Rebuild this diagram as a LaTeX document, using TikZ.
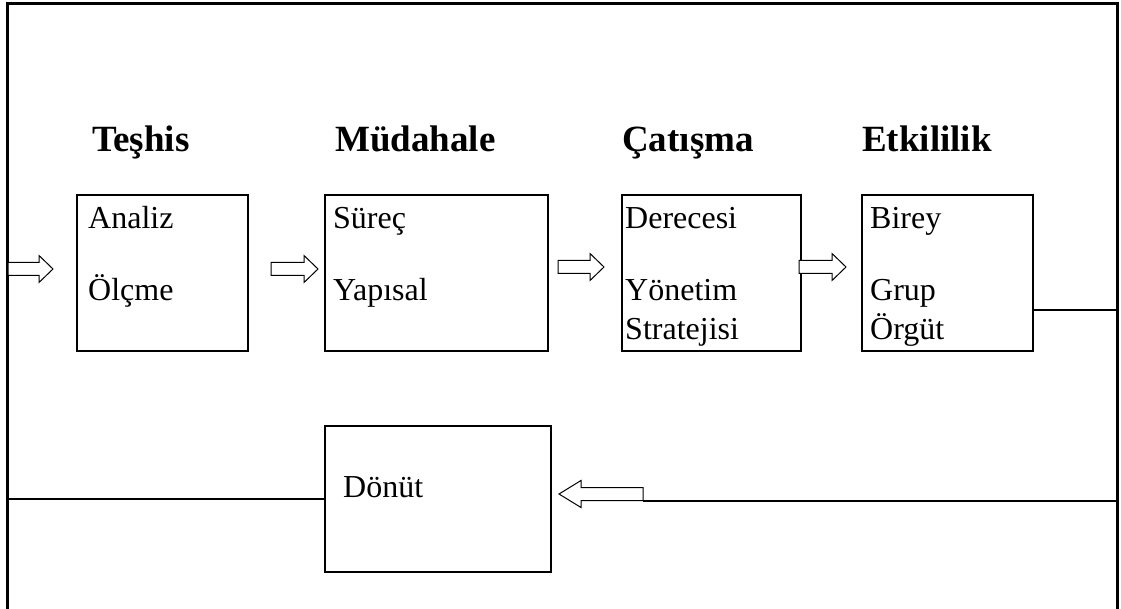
\documentclass[tikz,border=0pt]{standalone}
\usepackage{fontspec}
\setmainfont{Liberation Serif}

\tikzset{
  kutu/.style={draw, line width=2pt, inner sep=0pt},
  metin/.style={anchor=base west, inner sep=0pt, font=\fontsize{32}{38}\selectfont},
  baslik/.style={anchor=base west, inner sep=0pt, font=\fontsize{37}{44}\selectfont\bfseries},
  okcizgi/.style={draw, line width=1pt, fill=white, line join=miter},
  baglanti/.style={line width=2pt},
  cerceve/.style={line width=3pt},
}

% hollow block arrow: tail x, tip x, centre y, head length (negative = to the left)
\newcommand{\blokok}[4]{%
  \draw[okcizgi] (#1,#3-6.5) -- (#2-#4,#3-6.5) -- (#2-#4,#3-13.5) -- (#2,#3)
    -- (#2-#4,#3+13.5) -- (#2-#4,#3+6.5) -- (#1,#3+6.5) -- cycle;}

\begin{document}
\begin{tikzpicture}[x=1pt, y=-1pt]
    \useasboundingbox (0,0) rectangle (1121,609);

    % Outer frame, open at the bottom
    \coordinate (solalt) at (7,609);
    \coordinate (solust) at (7,4);
    \coordinate (sagust) at (1117,4);
    \coordinate (sagalt) at (1117,609);
    \draw[cerceve] (solalt) -- (solust) -- (sagust) -- (sagalt);

    % Headings
    \node[baslik] (b1) at (92,152) {Teşhis};
    \node[baslik] (b2) at (335,152) {Müdahale};
    \node[baslik] (b3) at (622,152) {Çatışma};
    \node[baslik] (b4) at (862,152) {Etkililik};

    % Boxes of the upper row
    \node[kutu, minimum width=171, minimum height=156] (analiz) at (162.5,273) {};
    \node[kutu, minimum width=223, minimum height=156] (surec) at (436.5,273) {};
    \node[kutu, minimum width=179, minimum height=156] (derece) at (711.5,273) {};
    \node[kutu, minimum width=171, minimum height=156] (birey) at (947.5,273) {};

    % Texts inside the boxes
    \node[metin] (t1a) at (88,229) {Analiz};
    \node[metin] (t1b) at (88,301) {Ölçme};
    \node[metin] (t2a) at (333,229) {Süreç};
    \node[metin] (t2b) at (333,301) {Yapısal};
    \node[metin] (t3a) at (625,229) {Derecesi};
    \node[metin] (t3b) at (625,301) {Yönetim};
    \node[metin] (t3c) at (625,339) {Stratejisi};
    \node[metin] (t4a) at (870,229) {Birey};
    \node[metin] (t4b) at (870,301) {Grup};
    \node[metin] (t4c) at (870,339) {Örgüt};

    % Feedback box
    \node[kutu, minimum width=226, minimum height=146] (donut) at (438,499) {};
    \node[metin] (t5) at (343,497) {Dönüt};

    % Block arrows between the boxes
    \blokok{8}{53}{269}{14}
    \blokok{271}{318}{269}{14}
    \blokok{558}{604}{267}{14}
    \blokok{799}{846}{267}{14}

    % Feedback loop
    \coordinate (sag1) at (1117,310);
    \coordinate (sag2) at (1117,501);
    \coordinate (okuc) at (643,501);
    \coordinate (sol2) at (7,499);
    \draw[baglanti] (sag1 -| birey.east) -- (sag1);
    \draw[baglanti] (sag2) -- (okuc);
    \draw[baglanti] (sol2) -- (donut.west);
    \blokok{643}{559}{494}{-22}
\end{tikzpicture}
\end{document}
